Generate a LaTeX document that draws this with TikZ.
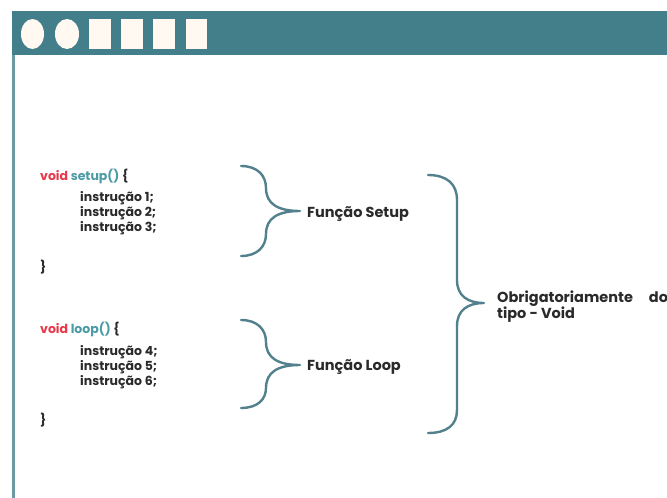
\documentclass[tikz,border=0pt]{standalone}
\usepackage{fontspec}
\setmainfont{Poppins}
\definecolor{frame}{HTML}{437F8A}
\definecolor{frameedge}{HTML}{6B9AA3}
\definecolor{bracecol}{HTML}{52808C}
\definecolor{kwred}{HTML}{E8394A}
\definecolor{fnteal}{HTML}{4A9BA5}
\definecolor{ink}{HTML}{2A2A2A}
\definecolor{chip}{HTML}{FFF9F2}
\tikzset{
  code/.style={anchor=base west, inner sep=0pt, font=\bfseries\fontsize{12.5}{14}\selectfont, text=ink},
  lbl/.style={anchor=base west, inner sep=0pt, font=\bfseries\fontsize{14.5}{16}\selectfont, text=ink},
  brace/.style={draw=bracecol, line width=2.4pt, line cap=round, line join=round},
  chipbox/.style={fill=chip, draw=none}
}
\begin{document}
\begin{tikzpicture}[x=1pt, y=-1pt]
\useasboundingbox (0,0) rectangle (667,498);
\fill[white] (0,0) rectangle (667,498);
\begin{scope}
\clip (0,0) rectangle (667,498);
% window frame
\fill[frame] (12,11) rectangle (667,55);
\fill[frameedge] (12,55) rectangle (15,498);
% title bar buttons
\fill[chipbox] (32.5,34) ellipse (11.5 and 15);
\fill[chipbox] (67,34) ellipse (12 and 15);
\fill[chipbox] (89,19) rectangle (111,49);
\fill[chipbox] (121,19) rectangle (143,49);
\fill[chipbox] (153,19) rectangle (175,49);
\fill[chipbox] (186,19) rectangle (207,49);

% setup block
\node[code] (s0) at (40,180) {\textcolor{kwred}{void} \textcolor{fnteal}{setup()} \{};
\node[code] (s1) at (80,201) {instrução 1;};
\node[code] (s2) at (80,216) {instrução 2;};
\node[code] (s3) at (80,231) {instrução 3;};
\node[code] (s4) at (40,271) {\}};

% loop block
\node[code] (l0) at (40,333) {\textcolor{kwred}{void} \textcolor{fnteal}{loop()} \{};
\node[code] (l1) at (80,355) {instrução 4;};
\node[code] (l2) at (80,370) {instrução 5;};
\node[code] (l3) at (80,385) {instrução 6;};
\node[code] (l4) at (40,424) {\}};

% braces
\coordinate (b1tip) at (300,211);
\coordinate (b2tip) at (300,365);
\coordinate (b3tip) at (484,303);
\draw[brace] (241,166) .. controls (258,166) and (266,176) .. (266,188)
  .. controls (266,204) and (278,211) .. (b1tip)
  .. controls (278,211) and (266,218) .. (266,234)
  .. controls (266,246) and (258,256) .. (241,256);
\draw[brace] (241,320) .. controls (258,320) and (266,330) .. (266,342)
  .. controls (266,358) and (278,365) .. (b2tip)
  .. controls (278,365) and (266,372) .. (266,388)
  .. controls (266,399) and (258,408) .. (241,408);
\draw[brace] (428,175) .. controls (447,175) and (457,184) .. (457,200)
  -- (457,280) .. controls (457,296) and (468,303) .. (b3tip)
  .. controls (468,303) and (457,310) .. (457,326)
  -- (457,410) .. controls (457,425) and (447,433) .. (428,433);

% labels
\node[lbl] (fs) at (307,217) {Função Setup};
\node[lbl] (fl) at (307,370) {Função Loop};
\node[lbl] (ob) at (497,302) {Obrigatoriamente\hspace{16pt}do};
\node[lbl] (tv) at (497,318) {tipo - Void};
\end{scope}
\end{tikzpicture}
\end{document}
